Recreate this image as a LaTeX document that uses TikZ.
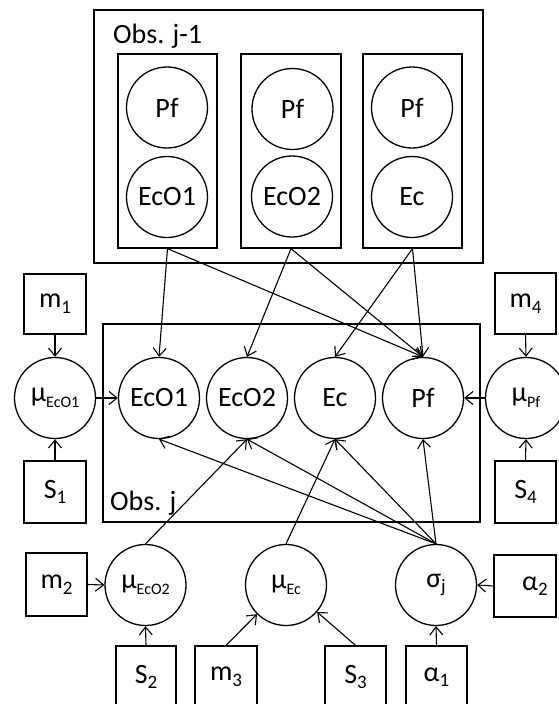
\documentclass[tikz,border=0pt]{standalone}
\usepackage{fontspec}
\setmainfont{Carlito}
\usetikzlibrary{arrows.meta}
% lowered small text for indices
\newcommand\sbs[2][19]{\raisebox{-0.2em}{\fontsize{#1}{#1}\selectfont #2}}

\begin{document}
\begin{tikzpicture}[x=1pt,y=-1pt,
  every node/.style={font=\fontsize{28}{32}\selectfont},
  var/.style={draw, circle, minimum size=81pt, inner sep=0pt, line width=1.3pt},
  hyper/.style={draw, rectangle, minimum width=61pt, minimum height=62pt, inner sep=0pt, line width=1.3pt},
  group/.style={draw, rectangle, inner sep=0pt, line width=1.3pt},
  edge/.style={-{Straight Barb[length=8pt,width=13pt]}, line width=1.1pt}]

\useasboundingbox (0,0) rectangle (558,704);

% ---- previous observation
\node[group, minimum width=389pt, minimum height=253pt] (prev) at (288.5,136.5) {};
\node[anchor=base west, inner sep=0pt] (prevlbl) at (113,43) {Obs. j-1};

\node[group, minimum width=99pt,  minimum height=194pt] (b1) at (167.5,151) {};
\node[group, minimum width=100pt, minimum height=194pt] (b2) at (291,151) {};
\node[group, minimum width=99pt,  minimum height=194pt] (b3) at (412.5,151) {};

\node[var] (p1) at (167,107.5) {Pf};
\node[var] (e1) at (167,197) {EcO1};
\node[var] (p2) at (292.5,109) {Pf};
\node[var] (e2) at (292,196.5) {EcO2};
\node[var] (p3) at (412,107.5) {Pf};
\node[var] (e3) at (412,197) {Ec};

% ---- current observation
\node[group, minimum width=377pt, minimum height=198pt] (cur) at (291.5,423) {};
\node[anchor=base west, inner sep=0pt] (curlbl) at (110,510) {Obs. j};

\node[var] (muA) at (55,398)  {μ\sbs[16]{EcO1}};
\node[var] (nA)  at (159,398) {EcO1};
\node[var] (nB)  at (247,398) {EcO2};
\node[var] (nC)  at (335,398) {Ec};
\node[var] (nD)  at (423,398) {Pf};
\node[var] (muD) at (526,398) {μ\sbs[16]{Pf}};

\node[hyper, minimum width=62pt, minimum height=60pt] (m1) at (55,304) {m\sbs{1}};
\node[hyper, minimum width=62pt] (s1) at (55,492) {S\sbs{1}};
\node[hyper, minimum width=61pt, minimum height=61pt] (m4) at (525.5,303.5) {m\sbs{4}};
\node[hyper, minimum width=61pt] (s4) at (525.5,492) {S\sbs{4}};

% ---- bottom row
\node[var] (muB) at (145.5,585) {μ\sbs[16]{EcO2}};
\node[var] (muC) at (286,585)   {μ\sbs[16]{Ec}};
\node[var] (sig) at (436,585)   {σ\sbs{j}};

\node[hyper, minimum height=63pt] (m2) at (56.5,584.5) {m\sbs{2}};
\node[hyper, minimum width=62pt] (a2) at (525,586) {\hspace{20pt}α\sbs{2}};

\node[hyper, minimum width=60pt] (s2) at (146,677)   {S\sbs{2}};
\node[hyper, minimum width=62pt] (m3) at (226,677)   {m\sbs{3}};
\node[hyper] (s3) at (355.5,677) {S\sbs{3}};
\node[hyper] (a1) at (436.5,677) {α\sbs{1}};

% ---- connectors from the previous observation
\draw[edge] (b1.south) -- (nA.north);
\draw[edge] (b1.south) -- (nD.north);
\draw[edge] (b2.south) -- (nB.north);
\draw[edge] (b2.south) -- (nD.north);
\draw[edge] (b3.south) -- (nC.north);
\draw[edge] (b3.south) -- (nD.north);

% ---- sigma to all variables
\draw[edge] (sig.north) -- (nA.south);
\draw[edge] (sig.north) -- (nB.south);
\draw[edge] (sig.north) -- (nC.south);
\draw[edge] (sig.north) -- (nD.south);

% ---- means
\draw[edge] (muB.north) -- (nB.south);
\draw[edge] (muC.north) -- (nC.south);
\draw[edge] (muA.east) -- (nA.west);
\draw[edge] (muD.west) -- (nD.east);

% ---- hyperparameters
\draw[edge] (m1.south) -- (muA.north);
\draw[edge] (s1.north) -- (muA.south);
\draw[edge] (m4.south) -- (muD.north);
\draw[edge] (s4.north) -- (muD.south);
\draw[edge] (m2.east) -- (muB.west);
\draw[edge] (s2.north) -- (muB.south);
\draw[edge] (m3.north) -- (muC);
\draw[edge] (s3.north) -- (muC);
\draw[edge] (a1.north) -- (sig.south);
\draw[edge] (a2.west) -- (sig.east);
\end{tikzpicture}
\end{document}
